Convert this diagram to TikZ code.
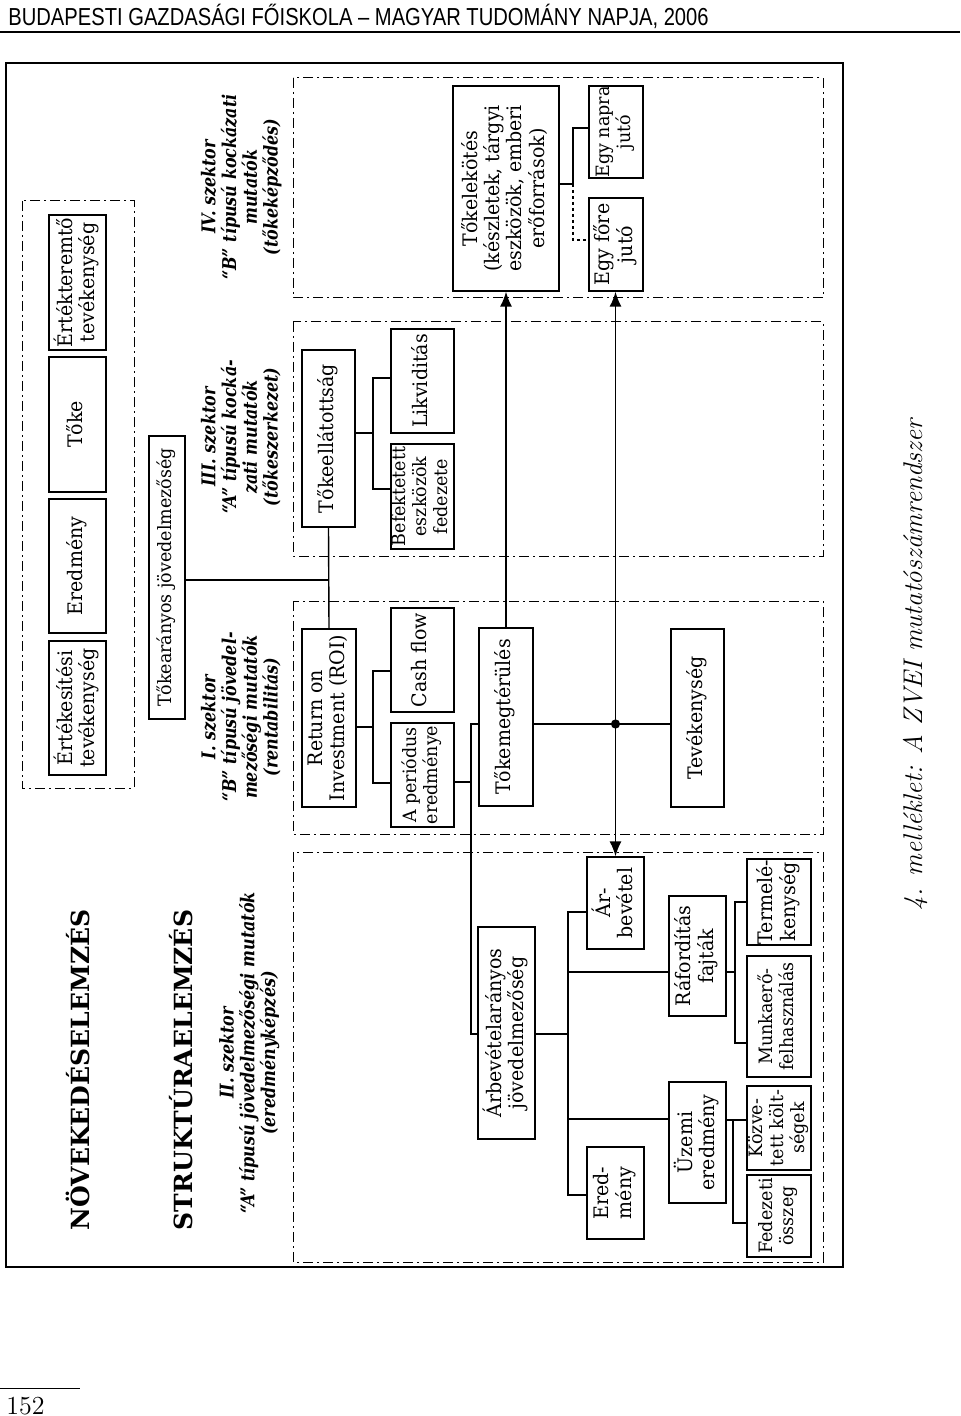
\documentclass[tikz,border=0pt]{standalone}
\usepackage{fontspec}
\usepackage{graphicx}
\usetikzlibrary{arrows.meta}
\newfontfamily\boxfont[FakeStretch=0.95]{DejaVu Serif}
\newfontfamily\headfont{DejaVu Serif}
\newfontfamily\labfont[FakeStretch=0.84]{DejaVu Serif}
\newfontfamily\hdrfont[FakeStretch=0.82]{Liberation Sans}
\newcommand\bxn[7][]{%
  \node[bx, #1, minimum width={(#5-#3)*0.5pt}, minimum height={(#6-#4)*0.5pt}]
    (#2) at ({(#3+#5)/2},{(#4+#6)/2})
    {\rotatebox{90}{\begin{tabular}{@{}c@{}}#7\end{tabular}}};}
\newcommand\rtxt[1]{\rotatebox{90}{\begin{tabular}{@{}c@{}}#1\end{tabular}}}
\begin{document}
\begin{tikzpicture}[x=0.5pt,y=-0.5pt,
  bx/.style={draw,line width=0.7pt,inner sep=0pt,font=\boxfont\fontsize{10}{11}\selectfont},
  small/.style={font=\boxfont\fontsize{9.2}{10.5}\selectfont},
  lab/.style={inner sep=0pt,font=\labfont\bfseries\itshape\fontsize{9.5}{9.2}\selectfont},
  head/.style={inner sep=0pt,font=\headfont\bfseries\fontsize{12.5}{14}\selectfont},
  sector/.style={line width=0.5pt,dash pattern=on 5pt off 2pt on 1pt off 2pt},
  con/.style={line width=0.7pt},
  arr/.style={con,-{Latex[length=7.5pt,width=6pt]}},
  dualarr/.style={con,{Latex[length=7.5pt,width=6pt]}-{Latex[length=7.5pt,width=6pt]}},
  dotcon/.style={line width=0.7pt,dash pattern=on 1.5pt off 1.5pt},
]
\useasboundingbox (0,0) rectangle (960,1416);

% header
\node[anchor=base west,inner sep=0pt,font=\hdrfont\fontsize{12.3}{14}\selectfont] (hdr) at (8,26)
  {BUDAPESTI GAZDASÁGI FŐISKOLA – MAGYAR TUDOMÁNY NAPJA, 2006};
\draw[line width=1.3pt] (0,32) -- (960,32);

% frame
\draw[line width=0.8pt] (6,63) rectangle (843,1267);

% sector boxes
\draw[sector] (22,201) rectangle (134,788);
\draw[sector] (293,78) rectangle (823,298);
\draw[sector] (293,322) rectangle (823,556);
\draw[sector] (293,601) rectangle (823,834);
\draw[sector] (293,852) rectangle (823,1262);

% headings
\node[head] (growth) at (82,1070) {\rtxt{NÖVEKEDÉSELEMZÉS}};
\node[head] (struct) at (185,1070) {\rtxt{STRUKTÚRAELEMZÉS}};

% sector labels
\node[lab] (labIV) at (242,187) {\rtxt{IV. szektor\\“B” típusú kockázati\\mutatók\\(tőkeképződés)}};
\node[lab] (labIII) at (242,437) {\rtxt{III. szektor\\“A” típusú kocká-\\zati mutatók\\(tőkeszerkezet)}};
\node[lab] (labI) at (242,717) {\rtxt{I. szektor\\“B” típusú jövedel-\\mezőségi mutatók\\(rentabilitás)}};
\node[lab] (labII) at (250,1053) {\rtxt{II. szektor\\“A” típusú jövedelmezőségi mutatók\\(eredményképzés)}};

% top-left group
\bxn{ertekt}{49}{215}{106}{350}{Értékteremtő\\tevékenység}
\bxn{toke}{49}{357}{106}{492}{Tőke}
\bxn{eredm}{49}{499}{106}{633}{Eredmény}
\bxn{ertekes}{49}{641}{106}{775}{Értékesítési\\tevékenység}
\bxn[small]{tokear}{149}{436}{185}{719}{Tőkearányos jövedelmezőség}

% sector III
\bxn{tokeell}{302}{350}{355}{527}{Tőkeellátottság}
\bxn{likv}{391}{329}{454}{433}{Likviditás}
\bxn[small]{befekt}{391}{444}{454}{549}{Befektetett\\eszközök\\fedezete}

% sector IV
\bxn{tokelek}{453}{86}{559}{291}{Tőkelekötés\\(készletek, tárgyi\\eszközök, emberi\\erőforrások)}
\bxn[small]{napra}{589}{86}{643}{178}{Egy napra\\jutó}
\bxn{fore}{589}{198}{643}{291}{Egy főre\\jutó}

% sector I
\bxn{roi}{302}{629}{356}{807}{Return on\\Investment (ROI)}
\bxn{cash}{391}{608}{454}{712}{Cash flow}
\bxn[small]{period}{391}{723}{454}{827}{A periódus\\eredménye}
\bxn{tokemeg}{479}{628}{533}{806}{Tőkemegtérülés}
\bxn{tevek}{671}{629}{724}{807}{Tevékenység}

% sector II
\bxn{arbevar}{478}{927}{535}{1139}{Árbevételarányos\\jövedelmezőség}
\bxn{arbev}{587}{857}{644}{949}{Ár-\\bevétel}
\bxn{ered}{587}{1147}{644}{1239}{Ered-\\mény}
\bxn{rafor}{669}{896}{726}{1016}{Ráfordítás\\fajták}
\bxn{uzemi}{669}{1082}{726}{1203}{Üzemi\\eredmény}
\bxn{termel}{747}{859}{811}{945}{Termelé-\\kenység}
\bxn[small]{munka}{747}{956}{811}{1077}{Munkaerő-\\felhasználás}
\bxn[small]{kozvet}{747}{1086}{811}{1170}{Közve-\\tett költ-\\ségek}
\bxn[small]{fedez}{747}{1175}{811}{1257}{Fedezeti\\összeg}

% connectors: top
\draw[con] (tokeell.south) -- (roi.north);
\draw[con] (tokear.east |- 0,580) -- (tokeell.south |- 0,580);

% sector III tree
\draw[con] (tokeell.east |- 0,433) -- (373,433);
\draw[con] (likv.west |- 0,378) -| (373,489) -- (befekt.west |- 0,489);

% sector IV tree
\draw[con] (tokelek.east |- 0,184) -- (573,184) coordinate (jl) |- (napra.west |- 0,128);
\draw[dotcon] (jl) |- (fore.west |- 0,240);

% sector I tree
\draw[con] (roi.east |- 0,727) -- (373,727);
\draw[con] (cash.west |- 0,671) -| (373,783) -- (period.west |- 0,783);

% arrows
\draw[arr] (tokemeg.north) -- (tokemeg.north |- tokelek.south);
\draw[dualarr] (arbev.north) -- (arbev.north |- fore.south);
\coordinate (dot) at (615.5,724);
\draw[con] (tokemeg.east |- dot) -- (tevek.west |- dot);
\fill (dot) circle (2.3pt);

% link Tőkemegtérülés - A periódus - Árbevételarányos
\draw[con] (tokemeg.west |- dot) -- (471,724) |- (arbevar.west |- 0,1034);
\draw[con] (period.east |- 0,782) -- (471,782);

% sector II tree
\draw[con] (arbevar.east |- 0,1034) -- (568,1034);
\draw[con] (arbev.west |- 0,912) -| (568,1195) -- (ered.west |- 0,1195);
\draw[con] (568,972) -- (rafor.west |- 0,972);
\draw[con] (568,1119) -- (uzemi.west |- 0,1119);
\draw[con] (rafor.east |- 0,972) -- (735,972);
\draw[con] (termel.west |- 0,902) -| (735,1043) -- (munka.west |- 0,1043);
\draw[con] (uzemi.east |- 0,1120) -- (kozvet.west |- 0,1120);
\draw[con] (733,1120) |- (fedez.west |- 0,1223);

% caption
\node[inner sep=0pt,font=\itshape\fontsize{13.5}{15}\selectfont] (cap) at (915,665)
  {\rotatebox{90}{4. melléklet: A ZVEI mutatószámrendszer}};

% page number
\draw[line width=0.5pt] (0,1388) -- (80,1388);
\node[anchor=base west,inner sep=0pt,font=\fontsize{13}{15}\selectfont] (pg) at (6,1414) {152};
\end{tikzpicture}
\end{document}
